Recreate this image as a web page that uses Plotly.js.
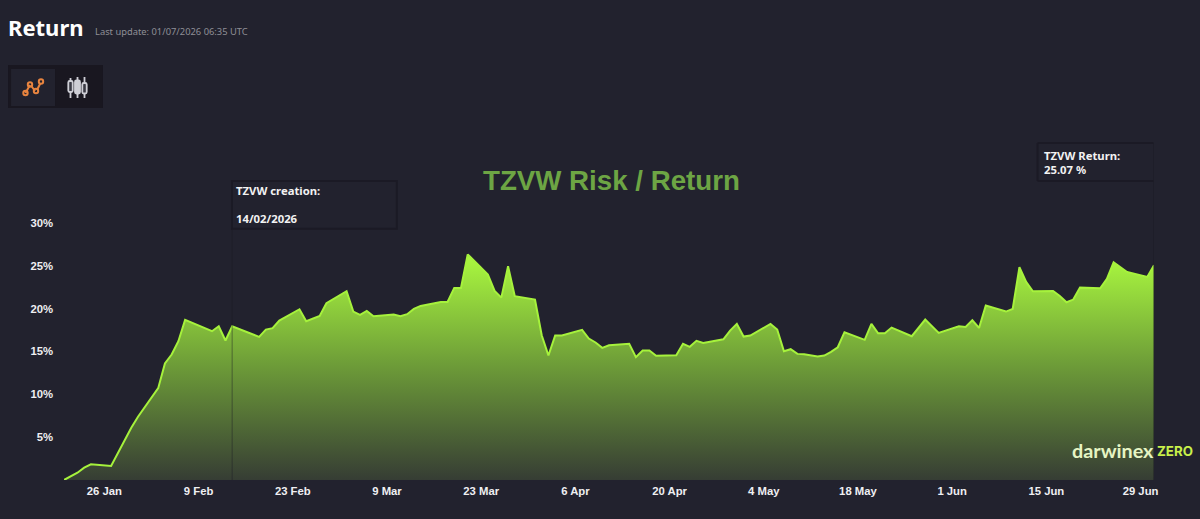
<!DOCTYPE html>
<html>
<head>
<meta charset="utf-8">
<script src="https://cdn.plot.ly/plotly-3.0.1.min.js"></script>
<style>
html,body{margin:0;padding:0;background:#22222e;overflow:hidden}
#chart{width:1200px;height:519px;position:relative}
#icons{position:absolute;left:0;top:0;pointer-events:none}
</style>
</head>
<body>
<div id="chart"></div>
<svg id="icons" width="200" height="120" fill="none">
  <g stroke="#e8843f" stroke-width="2">
    <path d="M25.5 93 L30 85 M31 85.5 L35 91 M37 90 L40.5 83"/>
    <circle cx="25.5" cy="93" r="2.2"/><circle cx="30" cy="84.5" r="2.2"/><circle cx="36" cy="91" r="2.2"/><circle cx="41" cy="81.5" r="2.2"/>
  </g>
  <g stroke="#cfcfd6" stroke-width="1.8">
    <path d="M70.5 78 V98 M77.5 77 V98 M84.5 77 V98"/>
    <rect x="68.3" y="81" width="4.4" height="11" rx="1.5" fill="#3a3a44"/>
    <rect x="75" y="80.5" width="5" height="13" rx="1.5" fill="#cfcfd6"/>
    <rect x="82.3" y="83" width="4.4" height="10.5" rx="1.5" fill="#3a3a44"/>
  </g>
</svg>
<script>
const dates = ["2026-01-20","2026-01-22","2026-01-23","2026-01-24","2026-01-27","2026-01-28","2026-01-29","2026-01-30","2026-01-31",
"2026-02-03","2026-02-04","2026-02-05","2026-02-06","2026-02-07","2026-02-11","2026-02-12","2026-02-13","2026-02-14","2026-02-18","2026-02-19","2026-02-20","2026-02-21","2026-02-24","2026-02-25","2026-02-27","2026-02-28",
"2026-03-03","2026-03-04","2026-03-05","2026-03-06","2026-03-07","2026-03-10","2026-03-11","2026-03-12","2026-03-13","2026-03-14","2026-03-17","2026-03-18","2026-03-19","2026-03-20","2026-03-21","2026-03-24","2026-03-25","2026-03-26","2026-03-27","2026-03-28","2026-03-31",
"2026-04-01","2026-04-02","2026-04-03","2026-04-04","2026-04-07","2026-04-08","2026-04-09","2026-04-10","2026-04-11","2026-04-14","2026-04-15","2026-04-16","2026-04-17","2026-04-18","2026-04-21","2026-04-22","2026-04-23","2026-04-24","2026-04-25","2026-04-28","2026-04-29","2026-04-30",
"2026-05-01","2026-05-02","2026-05-05","2026-05-06","2026-05-07","2026-05-08","2026-05-09","2026-05-10","2026-05-12","2026-05-13","2026-05-14","2026-05-15","2026-05-16","2026-05-19","2026-05-20","2026-05-21","2026-05-22","2026-05-23","2026-05-26","2026-05-28","2026-05-30",
"2026-06-02","2026-06-03","2026-06-04","2026-06-05","2026-06-06","2026-06-09","2026-06-10","2026-06-11","2026-06-12","2026-06-13","2026-06-16","2026-06-17","2026-06-18","2026-06-19","2026-06-20","2026-06-23","2026-06-24","2026-06-25","2026-06-27","2026-06-30","2026-07-01"];
const returns = [0,0.85,1.44,1.83,1.63,3.1,4.58,6.1,7.38,
10.72,13.6,14.65,16.2,18.69,17.37,17.95,16.28,17.95,16.7,17.56,17.72,18.6,19.93,18.53,19.15,20.63,
22.03,19.66,19.27,19.74,19.11,19.31,19.11,19.35,19.97,20.32,20.78,20.78,22.42,22.42,26.34,23.97,22.07,21.29,24.94,21.45,21.06,
16.9,14.53,16.86,16.86,17.52,16.51,16.05,15.42,15.73,15.89,14.34,15.11,15.11,14.49,14.57,15.89,15.54,16.24,16.0,16.43,17.44,18.22,
16.74,16.86,18.22,17.56,15.03,15.27,14.72,14.68,14.41,14.53,14.96,15.5,17.25,16.36,18.22,17.13,17.13,17.79,16.78,18.73,17.17,
17.95,17.87,18.65,17.75,20.36,19.66,19.97,24.83,23.12,22.03,22.07,21.48,20.75,21.06,22.46,22.38,23.47,25.41,24.28,23.7,25.07];
const xTickVals = ["2026-01-26","2026-02-09","2026-02-23","2026-03-09","2026-03-23","2026-04-06","2026-04-20","2026-05-04","2026-05-18","2026-06-01","2026-06-15","2026-06-29"];
const xTickText = ["26 Jan","9 Feb","23 Feb","9 Mar","23 Mar","6 Apr","20 Apr","4 May","18 May","1 Jun","15 Jun","29 Jun"];
const yTickVals = [5,10,15,20,25,30];
const yTickText = ["5%","10%","15%","20%","25%","30%"];
const creationDate = "2026-02-14";
const lastDate = "2026-07-01";

const L=64,R=1154.5,T=140,B=480.5;
const px=x=>(x-L)/(R-L), py=y=>(B-y)/(B-T);
const BG="#22222e", EDGE="#1b1a25", FONT='"Noto Sans", sans-serif', TICK='"Liberation Sans", Arial, sans-serif';
const note=(x,y,text,size,color,family,extra)=>Object.assign({xref:'paper',yref:'paper',x:px(x),y:py(y),text,showarrow:false,
  xanchor:'left',yanchor:'middle',align:'left',borderpad:0,font:{size,color,family}},extra||{});
const rect=(x0,y0,x1,y1,fill,line)=>({type:'rect',xref:'paper',yref:'paper',x0:px(x0),x1:px(x1),y0:py(y0),y1:py(y1),fillcolor:fill,
  line:line?{color:line,width:2}:{width:0},layer:'below'});

Plotly.newPlot('chart',[{
  x:dates,y:returns,type:'scatter',mode:'lines',
  line:{color:'#a6f23c',width:2,shape:'linear'},
  fill:'tozeroy',
  fillgradient:{type:'vertical',colorscale:[[0,'#363d34'],[0.5,'#6c9a38'],[1,'#abfa3f']]},
  hoverinfo:'skip'
}],{
  width:1200,height:519,autosize:false,showlegend:false,
  paper_bgcolor:BG,plot_bgcolor:BG,
  margin:{l:L,r:1200-R,t:T,b:519-B,pad:0},
  xaxis:{type:'date',range:["2026-01-20",lastDate],tickmode:'array',tickvals:xTickVals,ticktext:xTickText,
    showgrid:false,zeroline:false,showline:false,ticks:'',tickangle:0,
    tickfont:{family:TICK,size:11.3,color:'#efeff2',weight:700},ticklabelstandoff:3},
  yaxis:{range:[0,(B-T)/8.58],tickmode:'array',tickvals:yTickVals,ticktext:yTickText,
    showgrid:false,zeroline:false,showline:false,ticks:'',
    tickfont:{family:TICK,size:11.3,color:'#efeff2',weight:700},ticklabelstandoff:10},
  shapes:[
    rect(8,65,103,108,'#191720'),
    rect(11,69,55,106,'#22222e'),
    rect(232,181,397,229,BG,EDGE),
    {type:'line',xref:'x',yref:'paper',x0:creationDate,x1:creationDate,y0:0,y1:py(229),line:{color:'rgba(27,26,37,0.3)',width:1.5},layer:'above'},
    {type:'line',xref:'paper',yref:'paper',x0:px(1038),x1:px(1154),y0:py(143),y1:py(143),line:{color:EDGE,width:2},layer:'below'},
    {type:'line',xref:'paper',yref:'paper',x0:px(1038),x1:px(1154),y0:py(181),y1:py(181),line:{color:EDGE,width:2},layer:'below'},
    {type:'line',xref:'paper',yref:'paper',x0:px(1038),x1:px(1038),y0:py(143),y1:py(181),line:{color:EDGE,width:2},layer:'below'},
    {type:'line',xref:'x',yref:'paper',x0:lastDate,x1:lastDate,y0:0,y1:py(143),line:{color:'rgba(27,26,37,0.6)',width:1.5},layer:'above'}
  ],
  annotations:[
    note(7,27,'<b>Return</b>',22,'#ffffff',FONT),
    note(94.5,31.5,'Last update: 01/07/2026 06:35 UTC',9.35,'#8f8f96',FONT),
    note(612,181,'<b>TZVW Risk / Return</b>',27.7,'#6da544',TICK,{xanchor:'center'}),
    note(235.5,191,'<b>TZVW creation:</b>',11.3,'#f2f2f2',FONT),
    note(235.5,219,'<b>14/02/2026</b>',11.3,'#f2f2f2',FONT),
    note(1043.5,155.5,'<b>TZVW Return:</b>',11.3,'#f2f2f2',FONT),
    note(1043.5,169.5,'<b>25.07 %</b>',11.3,'#f2f2f2',FONT),
    note(1071,450,'<b>darwinex</b>',19.8,'#e6f5c4',"Lato, sans-serif"),
    note(1156.5,451,'<b>ZERO</b>',13.3,'#c8f04a',"Inter, sans-serif")
  ]
},{displayModeBar:false,staticPlot:true});
</script>
</body>
</html>
